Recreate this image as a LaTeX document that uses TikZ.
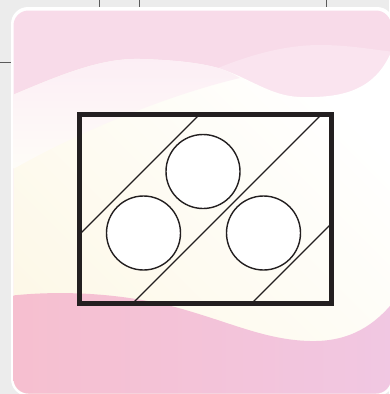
\documentclass[tikz,border=0pt]{standalone}
\usetikzlibrary{positioning}
\definecolor{bggray}{HTML}{ECECEC}
\definecolor{cutink}{HTML}{5A5A5A}
\definecolor{toppink}{HTML}{F8DBE9}
\definecolor{wavepale}{HTML}{FCEEF5}
\definecolor{wavemid}{HTML}{FAE4EF}
\definecolor{creamy}{HTML}{FDF8E7}
\definecolor{lowpinkl}{HTML}{F6BFCF}
\definecolor{lowpinkr}{HTML}{F1C7E2}
\definecolor{frameink}{HTML}{231F20}

\begin{document}
\begin{tikzpicture}[x=1pt, y=-1pt,
  frame/.style={draw=frameink, line width=4.5pt, minimum width=252pt,
              minimum height=189pt, inner sep=0pt},
  ball/.style={circle, draw=frameink, line width=1.4pt, fill=white,
              minimum size=74pt, inner sep=0pt},
  slash/.style={frameink, line width=1.4pt},
  cutline/.style={cutink, line width=0.6pt}]

%% Lienzo de 389 x 394 px, origen arriba a la izquierda (y hacia abajo).
\useasboundingbox (0,0) rectangle (389,394);
\fill[bggray] (0,0) rectangle (389,394);

%% ---- marcas de corte del fondo ----
\draw[cutline] (99,0) -- (99,8);
\draw[cutline] (139,0) -- (139,8);
\draw[cutline] (326,0) -- (326,8);
\draw[cutline] (0,62) -- (12,62);

%% ---- tarjeta ----
\fill[white, rounded corners=17pt] (11,7) rectangle (394,396);

\begin{scope}
\clip[rounded corners=15pt] (13.5,10.5) rectangle (391,393.5);
\fill[toppink] (0,0) rectangle (400,400);

%% onda derecha, rosa medio
\fill[wavemid] (218,68) .. controls (250,55) and (285,45) .. (320,45)
  .. controls (350,45) and (375,50) .. (395,52) -- (395,400) -- (218,400) -- cycle;

%% zona central: crema abajo a la izquierda, blanco arriba a la derecha
\shade[top color=white, bottom color=creamy, shading angle=-45]
  (8,97) .. controls (60,75) and (100,58) .. (140,59)
  .. controls (175,60) and (200,63) .. (218,68)
  .. controls (250,78) and (270,96) .. (300,97)
  .. controls (340,98) and (375,92) .. (392,50)
  -- (395,50) -- (395,400) -- (8,400) -- cycle;

%% onda izquierda, rosa muy claro que se funde con el centro
\shade[top color=wavepale, bottom color=creamy!30!white]
  (8,97) .. controls (60,75) and (100,58) .. (140,59)
  .. controls (175,60) and (200,63) .. (218,68)
  .. controls (228,71) and (235,75) .. (240,78)
  .. controls (180,92) and (90,125) .. (8,172) -- cycle;

%% onda de abajo
\shade[left color=lowpinkl, right color=lowpinkr]
  (8,296) .. controls (60,290) and (120,293) .. (175,307)
  .. controls (230,322) and (265,340) .. (310,341)
  .. controls (350,342) and (375,325) .. (395,300)
  -- (395,400) -- (8,400) -- cycle;
\end{scope}

%% ---- el dibujo: marco, tres bolas y tres diagonales ----
\coordinate (s1a) at (79.5,234.5);
\coordinate (s1b) at (199.5,114.5);
\coordinate (s2a) at (132.5,303.5);
\coordinate (s2b) at (321.5,114.5);
\coordinate (s3a) at (251.5,303.5);
\coordinate (s3b) at (331.5,223.5);

\draw[slash] (s1a) -- (s1b);
\draw[slash] (s2a) -- (s2b);
\draw[slash] (s3a) -- (s3b);

\node[ball] (lball) at (143.5,233) {};
\node[ball] (tball) at (203,171.5) {};
\node[ball] (rball) at (263.5,233) {};

\node[frame] (frame) at (205.5,209) {};

\end{tikzpicture}
\end{document}
